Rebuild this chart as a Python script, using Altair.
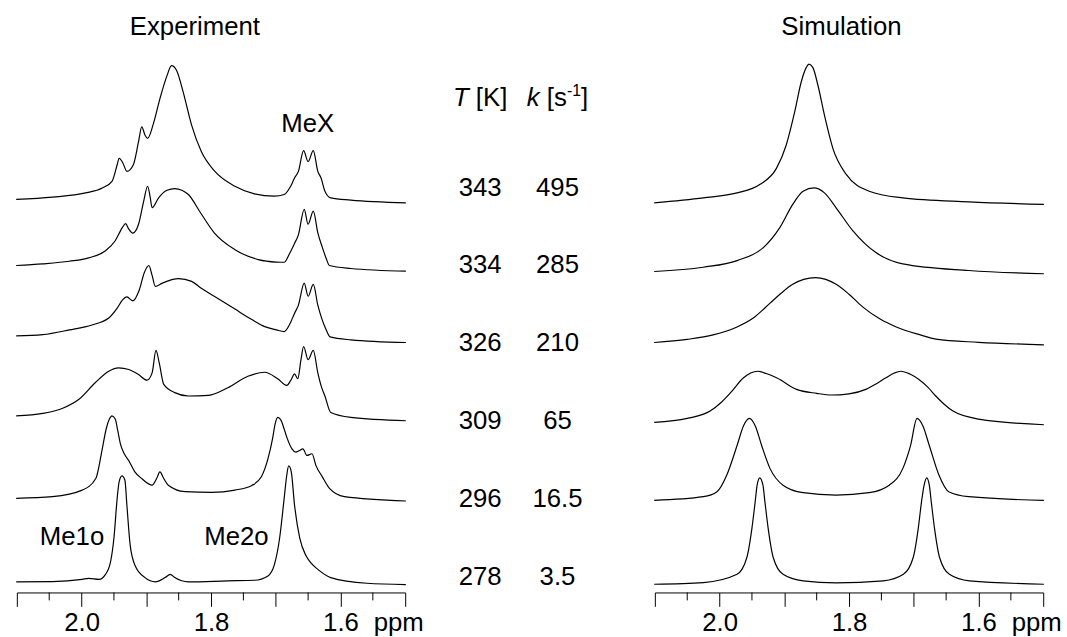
import altair as alt
import pandas as pd

FONT = "Liberation Sans"

# Rows of the stacked spectra, top to bottom
TEMPS = ["343", "334", "326", "309", "296", "278"]
RATES = ["495", "285", "210", "65", "16.5", "3.5"]
ROW_OFFSET = [393, 323, 252, 173, 92, 8]

# Axis ticks (ppm)
MAJOR_TICKS = [2.1, 2.0, 1.9, 1.8, 1.7, 1.6, 1.5]
MINOR_TICKS = [2.05, 1.95, 1.85, 1.75, 1.65, 1.55]
LABELED_TICKS = [2.0, 1.8, 1.6]

# ---- Experimental spectra: chemical shift (ppm) and intensity above row baseline
EXP_343_PPM = [2.101, 2.045, 1.994, 1.968, 1.953, 1.945, 1.942, 1.936, 1.930, 1.920,
               1.912, 1.907, 1.902, 1.898, 1.889, 1.879, 1.868, 1.861, 1.853, 1.843,
               1.830, 1.815, 1.794, 1.763, 1.733, 1.702, 1.687, 1.677, 1.671, 1.665,
               1.657, 1.650, 1.642, 1.635, 1.630, 1.624, 1.615, 1.584, 1.499]
EXP_343_INT = [3.7, 6, 10.3, 15.3, 22, 38.7, 45.3, 40.3, 32, 38.7,
               62, 77, 68.7, 65.3, 80.3, 105.3, 128.7, 138.7, 133.7, 112,
               78.7, 52, 32, 17, 9.3, 7, 8.7, 17, 25.3, 32,
               53, 42, 53, 32, 25.3, 12, 5.3, 3, 0.3]

EXP_334_PPM = [2.101, 2.060, 2.019, 1.989, 1.963, 1.948, 1.937, 1.932, 1.927, 1.921,
               1.912, 1.904, 1.898, 1.894, 1.891, 1.881, 1.868, 1.856, 1.845, 1.835,
               1.815, 1.795, 1.763, 1.727, 1.699, 1.687, 1.679, 1.671, 1.665, 1.656,
               1.650, 1.642, 1.635, 1.628, 1.622, 1.617, 1.584, 1.499]
EXP_334_INT = [7, 8.7, 11.3, 14.7, 22, 32, 45.3, 49.3, 43.7, 39.7,
               48.7, 72, 87, 76, 65.3, 75.3, 83, 84.7, 83, 78.7,
               59, 40, 23, 13, 10.5, 10.3, 18.7, 29.3, 38, 63.7,
               48.7, 62, 40, 25.3, 14, 7, 4, 1.3]

EXP_326_PPM = [2.101, 2.060, 2.019, 1.984, 1.958, 1.945, 1.937, 1.930, 1.921, 1.911,
               1.903, 1.896, 1.891, 1.886, 1.876, 1.850, 1.830, 1.815, 1.790, 1.763,
               1.737, 1.717, 1.699, 1.687, 1.679, 1.671, 1.665, 1.656, 1.650, 1.642,
               1.635, 1.629, 1.622, 1.616, 1.584, 1.499]
EXP_326_INT = [7, 8.3, 13, 18, 25, 35, 43, 46.3, 42.3, 53,
               71, 78, 68, 57, 60, 64.7, 62, 55, 45, 34,
               23.5, 16.3, 13, 11.3, 18, 29.7, 38, 60.3, 47, 59,
               38, 24.7, 13, 6, 3, 0.3]

EXP_309_PPM = [2.101, 2.060, 2.030, 2.004, 1.979, 1.958, 1.943, 1.927, 1.912, 1.899,
               1.891, 1.885, 1.880, 1.873, 1.856, 1.835, 1.804, 1.774, 1.743, 1.717,
               1.697, 1.683, 1.676, 1.671, 1.666, 1.661, 1.657, 1.650, 1.642, 1.635,
               1.629, 1.624, 1.615, 1.584, 1.499]
EXP_309_INT = [5.3, 7.7, 12.7, 22, 38.7, 50.3, 53.7, 52, 47, 41.3,
               48.7, 71.3, 58.7, 37, 28.7, 25.3, 26, 33.7, 45.3, 49.3,
               42.7, 36, 42, 47.7, 42.7, 62, 75.3, 62, 71.3, 48.7,
               33.7, 25.3, 8.7, 3.7, 0.3]

EXP_296_PPM = [2.101, 2.045, 1.999, 1.978, 1.968, 1.962, 1.957, 1.953, 1.948, 1.944,
               1.940, 1.934, 1.927, 1.918, 1.907, 1.891, 1.884, 1.879, 1.873, 1.866,
               1.840, 1.799, 1.763, 1.737, 1.722, 1.712, 1.705, 1.701, 1.697, 1.692,
               1.687, 1.682, 1.675, 1.669, 1.664, 1.658, 1.652, 1.644, 1.638, 1.628,
               1.617, 1.594, 1.499]
EXP_296_INT = [3, 4.7, 11.3, 23, 53, 73, 83, 86.3, 83, 71,
               58, 48, 41, 30, 23, 16.3, 23, 29.7, 23, 16.3,
               9.7, 9, 11.3, 16, 25, 43, 63, 78, 84.7, 82,
               73, 63, 53, 49.7, 51, 53, 46.3, 48, 36.3, 24.7,
               13, 4.7, 0.3]

EXP_278_PPM = [2.101, 2.045, 1.999, 1.989, 1.973, 1.963, 1.955, 1.950, 1.945, 1.942,
               1.9375, 1.933, 1.930, 1.925, 1.917, 1.902, 1.886, 1.871, 1.863, 1.856,
               1.835, 1.774, 1.733, 1.712, 1.702, 1.694, 1.687, 1.683, 1.680, 1.676,
               1.671, 1.663, 1.653, 1.646, 1.635, 1.615, 1.559, 1.499]
EXP_278_INT = [2.7, 3, 5.3, 6.3, 5.3, 10.3, 23.7, 47, 87, 103.7,
               109.7, 105.3, 80.3, 40.3, 18.7, 7, 2.7, 7, 10.3, 7,
               2.7, 3.7, 4.3, 8.7, 20.3, 47, 87, 110.3, 119.7, 113.7,
               80.3, 47, 28.7, 22, 15.3, 7, 1.3, 0]

# ---- Simulated spectra
SIM_343_PPM = [2.101, 2.025, 1.973, 1.938, 1.912, 1.897, 1.884, 1.874, 1.866, 1.862,
               1.856, 1.848, 1.838, 1.825, 1.804, 1.769, 1.717, 1.615, 1.499]
SIM_343_INT = [0.3, 5.3, 10.3, 18.7, 35.3, 58.7, 92, 122, 137, 140.3,
               137, 118.7, 88.7, 55.3, 28.7, 12, 5.3, 1.3, -1.3]

SIM_334_PPM = [2.101, 2.025, 1.973, 1.932, 1.907, 1.887, 1.871, 1.854, 1.838, 1.820,
               1.794, 1.759, 1.717, 1.615, 1.499]
SIM_334_INT = [1, 5.3, 12, 25.3, 45.3, 68.7, 82, 85.3, 80.3, 65.3,
               42, 20.3, 8.7, 2, -1.3]

SIM_326_PPM = [2.101, 2.050, 2.010, 1.973, 1.948, 1.922, 1.905, 1.887, 1.870, 1.852,
               1.836, 1.820, 1.800, 1.779, 1.752, 1.727, 1.690, 1.666, 1.600, 1.499]
SIM_326_INT = [0.3, 3.5, 8, 16, 25, 40, 50, 59, 64, 65.7,
               64, 59, 49, 36.3, 24, 16, 8, 3.7, 0.5, -2]

SIM_309_PPM = [2.101, 2.050, 2.014, 1.999, 1.983, 1.963, 1.952, 1.941, 1.928, 1.912,
               1.881, 1.850, 1.827, 1.800, 1.774, 1.757, 1.743, 1.730, 1.720, 1.706,
               1.692, 1.678, 1.666, 1.653, 1.640, 1.600, 1.499]
SIM_309_INT = [-1.3, 2.7, 10.3, 18, 28.7, 43.7, 48.5, 50.3, 48, 43.7,
               32, 28, 26.3, 27.5, 32, 38, 43.7, 48.5, 50.3, 47.5,
               42, 34, 25.3, 17, 10.3, 2, -3.7]

SIM_296_PPM = [2.101, 2.025, 2.004, 1.989, 1.973, 1.963, 1.954, 1.945, 1.935, 1.922,
               1.902, 1.871, 1.820, 1.769, 1.738, 1.717, 1.705, 1.695, 1.686, 1.676,
               1.661, 1.646, 1.615, 1.499]
SIM_296_INT = [1, 4.7, 9.7, 26.3, 56.3, 76.3, 83.7, 76.3, 56.3, 33,
               16.3, 8.7, 6.3, 8.7, 16.3, 33, 56.3, 83.7, 76.3, 56.3,
               26.3, 9.7, 4.7, 1]

SIM_278_PPM = [2.101, 2.025, 1.973, 1.958, 1.950, 1.945, 1.942, 1.938, 1.933, 1.930,
               1.925, 1.917, 1.902, 1.871, 1.820, 1.747, 1.716, 1.701, 1.693, 1.688,
               1.684, 1.680, 1.676, 1.673, 1.668, 1.660, 1.645, 1.614, 1.499]
SIM_278_INT = [0.3, 2, 10.3, 27, 57, 83.7, 100.3, 107.7, 100.3, 83.7,
               57, 27, 10.3, 3.7, 1.7, 3.7, 10.3, 27, 57, 83.7,
               100.3, 107.7, 100.3, 83.7, 57, 27, 10.3, 3.7, 0.3]

EXP_TRACES = [(EXP_343_PPM, EXP_343_INT), (EXP_334_PPM, EXP_334_INT),
              (EXP_326_PPM, EXP_326_INT), (EXP_309_PPM, EXP_309_INT),
              (EXP_296_PPM, EXP_296_INT), (EXP_278_PPM, EXP_278_INT)]
SIM_TRACES = [(SIM_343_PPM, SIM_343_INT), (SIM_334_PPM, SIM_334_INT),
              (SIM_326_PPM, SIM_326_INT), (SIM_309_PPM, SIM_309_INT),
              (SIM_296_PPM, SIM_296_INT), (SIM_278_PPM, SIM_278_INT)]


def stack(traces):
    recs = []
    for temp, off, (ppm, inten) in zip(TEMPS, ROW_OFFSET, traces):
        for p, v in zip(ppm, inten):
            recs.append({"row": temp, "ppm": p, "value": off + v})
    return pd.DataFrame(recs)


PANEL_W = 392
PANEL_H = 595
GAP_W = 251.4
FS = 26

label_test = " || ".join(f"abs(datum.value - {v}) < 0.001" for v in LABELED_TICKS)
label_expr = f"({label_test}) ? format(datum.value, '.1f') : ''"

x_enc = alt.X(
    "ppm:Q",
    scale=alt.Scale(domain=[2.1, 1.5], nice=False, zero=False),
    axis=alt.Axis(
        values=MAJOR_TICKS, labelExpr=label_expr, grid=False,
        tickSize=14, tickWidth=1, tickColor="black",
        domainColor="black", domainWidth=1,
        labelFont=FONT, labelFontSize=FS, labelColor="black",
        labelBaseline="alphabetic", labelPadding=24.3,
        labelFlush=False, labelOverlap=False, labelBound=False,
        title="ppm", titleFont=FONT, titleFontSize=FS, titleFontWeight="normal",
        titleColor="black", titleAlign="left", titleBaseline="alphabetic",
        titleAngle=0, titleX=359.7, titleY=38.3,
    ),
)
y_enc = alt.Y("value:Q", scale=alt.Scale(domain=[0, PANEL_H], nice=False, zero=False), axis=None)


def note(text, x, y, size=FS, style="normal", align="center"):
    return alt.Chart(pd.DataFrame({"t": [text]})).mark_text(
        font=FONT, fontSize=size, fontStyle=style, color="black",
        align=align, baseline="alphabetic",
    ).encode(text="t:N", x=alt.value(x), y=alt.value(y))


def panel(traces, title, title_x, notes):
    lines = alt.Chart(stack(traces)).mark_line(
        color="black", strokeWidth=1.2, interpolate="monotone"
    ).encode(x=x_enc, y=y_enc, detail="row:N")
    minor = alt.Chart(pd.DataFrame({"ppm": MINOR_TICKS})).mark_rule(
        color="black", strokeWidth=1
    ).encode(x=x_enc, y=alt.value(PANEL_H), y2=alt.value(PANEL_H + 8))
    layers = [lines, minor, note(title, title_x, 32)] + notes
    return alt.layer(*layers).properties(width=PANEL_W, height=PANEL_H)


left = panel(EXP_TRACES, "Experiment", 179.7, [
    note("MeX", 293.7, 130),
    note("Me1o", 55.7, 546.7),
    note("Me2o", 221.7, 546.7),
])
right = panel(SIM_TRACES, "Simulation", 188.3, [])

rows_df = pd.DataFrame({"T": TEMPS, "k": RATES})
y_row = alt.Y("T:N", sort=None, axis=None,
              scale=alt.Scale(type="point", range=[194.5, 587], padding=0))
t_col = alt.Chart(rows_df).mark_text(
    font=FONT, fontSize=FS, color="black", align="center", baseline="alphabetic"
).encode(x=alt.value(75.7), y=y_row, text="T:N")
k_col = alt.Chart(rows_df).mark_text(
    font=FONT, fontSize=FS, color="black", align="center", baseline="alphabetic"
).encode(x=alt.value(153.7), y=y_row, text="k:N")

middle = alt.layer(
    t_col, k_col,
    note("T", 48.2, 104, style="italic", align="left"),
    note("[K]", 71.3, 104, align="left"),
    note("k", 122.8, 104, style="italic", align="left"),
    note("[s", 143, 104, align="left"),
    note("-1", 163.2, 94, size=16, align="left"),
    note("]", 177.4, 104, align="left"),
).properties(width=GAP_W, height=PANEL_H)

chart = alt.hconcat(left, middle, right, spacing=0, bounds="flush").properties(
    padding={"left": 13, "top": 0, "right": 5, "bottom": 5},
).configure_view(stroke=None)

chart.save("out.html", embed_options={"renderer": "svg", "actions": False})
